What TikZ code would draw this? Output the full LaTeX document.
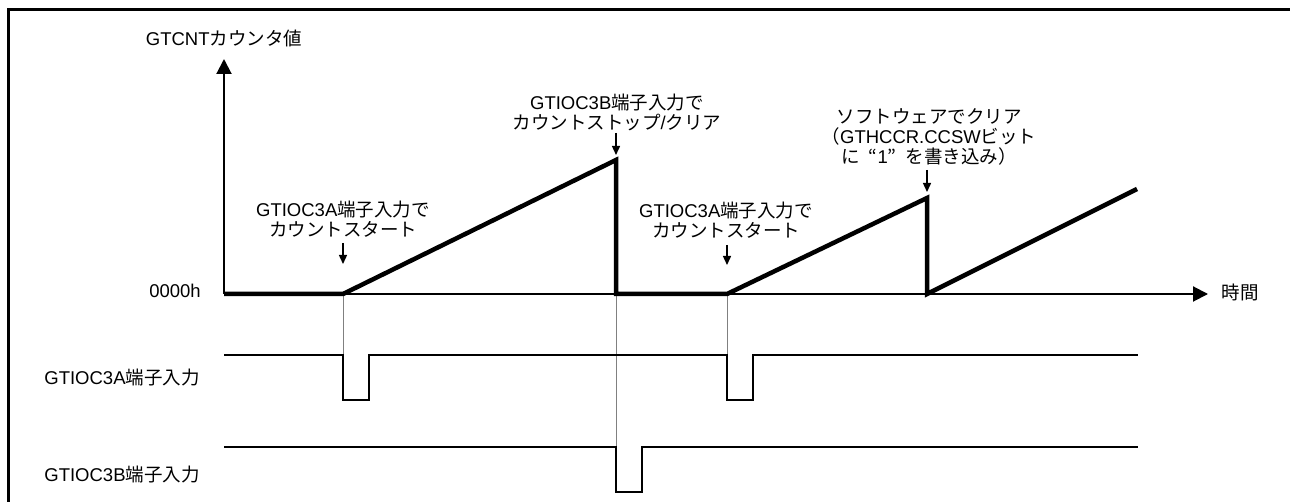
\documentclass[tikz,border=0pt]{standalone}
\usepackage{fontspec}
\setmainfont{Liberation Sans}
\newfontfamily\jp{Noto Sans CJK JP}
\newcommand{\J}[1]{{\jp #1}}
\usetikzlibrary{arrows.meta}
\begin{document}
\begin{tikzpicture}[x=1pt,y=-1pt,
  lbl/.style={inner sep=0pt, font=\fontsize{18.5}{20}\selectfont, align=center},
  frameline/.style={line width=3pt},
  axisline/.style={line width=2pt, -{Triangle[length=15pt,width=15pt]}},
  countline/.style={line width=4.5pt},
  sigline/.style={line width=1.8pt},
  guide/.style={line width=1pt, draw=black!50},
  note/.style={line width=1.4pt, -{Triangle[length=9pt,width=8pt]}}]
\useasboundingbox (0,0) rectangle (1290,502);
% frame
\draw[frameline] (8.5,502) -- (8.5,9.5) -- (1290,9.5);
% key coordinates
\coordinate (o) at (224,294);
\coordinate (ytop) at (224,59);
\coordinate (tend) at (1208,294);
\coordinate (s1) at (343,294);
\coordinate (p1) at (616,160);
\coordinate (c1) at (616,294);
\coordinate (s2) at (727,294);
\coordinate (p2) at (927,198);
\coordinate (c2) at (927,294);
\coordinate (e) at (1137,189);
% signal coordinates
\coordinate (a0) at (224,355);
\coordinate (a1) at (343,355);
\coordinate (a1l) at (343,400);
\coordinate (a1r) at (369,400);
\coordinate (a1h) at (369,355);
\coordinate (a2) at (727,355);
\coordinate (a2l) at (727,400);
\coordinate (a2r) at (753,400);
\coordinate (a2h) at (753,355);
\coordinate (aend) at (1138,355);
\coordinate (b0) at (224,447);
\coordinate (b1) at (616,447);
\coordinate (b1l) at (616,492);
\coordinate (b1r) at (642,492);
\coordinate (b1h) at (642,447);
\coordinate (bend) at (1138,447);
% guides
\draw[guide] (s1) -- (a1);
\draw[guide] (c1) -- (b1);
\draw[guide] (s2) -- (a2);
% signals
\draw[sigline] (a0) -- (a1) -- (a1l) -- (a1r) -- (a1h) -- (a2) -- (a2l) -- (a2r) -- (a2h) -- (aend);
\draw[sigline] (b0) -- (b1) -- (b1l) -- (b1r) -- (b1h) -- (bend);
% axes
\draw[axisline] (o) -- (ytop);
\draw[axisline] (o) -- (tend);
% counter
\draw[countline] (o) -- (s1) -- (p1) -- (c1) -- (s2) -- (p2) -- (c2) -- (e);
% labels
\node[lbl] (ylab) at (224,38) {GTCNT\J{カウンタ値}};
\node[lbl] (zero) at (175,291) {0000h};
\node[lbl] (tlab) at (1240,292) {\J{時間}};
\node[lbl] (siga) at (122,378) {GTIOC3A\J{端子入力}};
\node[lbl] (sigb) at (122,475) {GTIOC3B\J{端子入力}};
% annotations
\node[lbl] (n1) at (343,219) {GTIOC3A\J{端子入力で}\\\J{カウントスタート}};
\node[lbl] (n2) at (617,112.5) {GTIOC3B\J{端子入力で}\\\J{カウントストップ}/\J{クリア}};
\node[lbl] (n3) at (726,220) {GTIOC3A\J{端子入力で}\\\J{カウントスタート}};
\node[lbl] (n4) at (929,137) {\J{ソフトウェアでクリア}\\\J{（}GTHCCR.CCSW\J{ビット}\\\J{に}\hspace{0.5em}\J{“}1\J{”}\hspace{0.5em}\J{を書き込み）}};
% annotation arrows
\coordinate (n1a) at (343,243);
\coordinate (n1b) at (343,264);
\coordinate (n2a) at (616,133);
\coordinate (n2b) at (616,155);
\coordinate (n3a) at (727,245);
\coordinate (n3b) at (727,265);
\coordinate (n4a) at (927,170);
\coordinate (n4b) at (927,192);
\draw[note] (n1a) -- (n1b);
\draw[note] (n2a) -- (n2b);
\draw[note] (n3a) -- (n3b);
\draw[note] (n4a) -- (n4b);
\end{tikzpicture}
\end{document}
